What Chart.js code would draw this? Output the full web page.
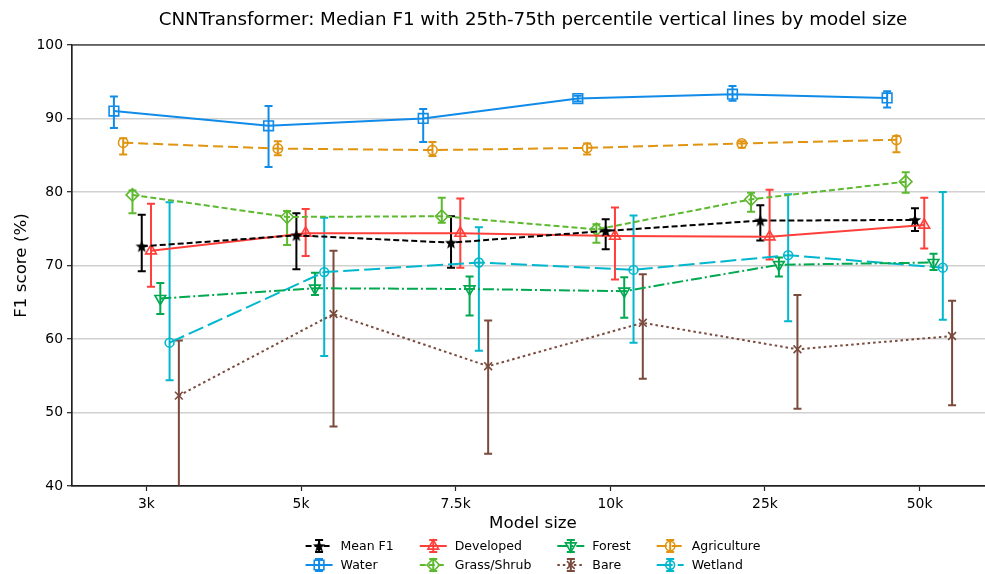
<!DOCTYPE html>
<html>
<head>
<meta charset="utf-8">
<script src="https://cdn.jsdelivr.net/npm/chart.js@4.4.1/dist/chart.umd.min.js"></script>
<style>
  html, body { margin: 0; padding: 0; overflow: hidden; background: #fff; }
  .c-chart { width: 1066px; height: 574px; }
</style>
</head>
<body>
<div class="c-chart"><canvas id="myChart" width="1066" height="574"></canvas></div>
<script>
const modelSizes = ['3k', '5k', '7.5k', '10k', '25k', '50k'];

// median + 25th / 75th percentile per land class
const meanF1 = [72.6, 74.1, 73.1, 74.7, 76.1, 76.2];
const meanF1Low = [69.2, 69.5, 69.7, 72.2, 73.4, 74.7];
const meanF1High = [76.9, 77.1, 76.7, 76.3, 78.2, 77.8];

const water = [91.0, 89.0, 90.0, 92.7, 93.3, 92.8];
const waterLow = [88.7, 83.4, 86.8, 92.3, 92.4, 91.5];
const waterHigh = [93.0, 91.7, 91.3, 93.1, 94.4, 93.7];

const developed = [72.0, 74.4, 74.4, 74.0, 73.9, 75.5];
const developedLow = [67.1, 71.3, 69.7, 68.1, 70.8, 72.3];
const developedHigh = [78.4, 77.7, 79.1, 77.9, 80.3, 79.2];

const grass = [79.6, 76.6, 76.7, 74.9, 79.0, 81.4];
const grassLow = [77.1, 72.8, 75.8, 73.1, 77.3, 79.9];
const grassHigh = [80.2, 77.4, 79.2, 75.6, 79.9, 82.7];

const forest = [65.5, 66.9, 66.8, 66.5, 70.1, 70.4];
const forestLow = [63.4, 66.0, 63.2, 62.9, 68.5, 69.4];
const forestHigh = [67.6, 69.0, 68.5, 68.4, 71.1, 71.6];

const bare = [52.3, 63.4, 56.3, 62.2, 58.6, 60.4];
const bareLow = [39.0, 48.1, 44.4, 54.6, 50.5, 51.0];
const bareHigh = [59.8, 72.0, 62.5, 68.8, 66.0, 65.2];

const agriculture = [86.7, 85.9, 85.7, 86.0, 86.6, 87.1];
const agricultureLow = [85.1, 85.0, 84.9, 85.1, 86.0, 85.4];
const agricultureHigh = [87.3, 86.9, 86.8, 86.6, 86.9, 87.6];

const wetland = [59.5, 69.1, 70.4, 69.4, 71.4, 69.7];
const wetlandLow = [54.4, 57.7, 58.4, 59.5, 62.4, 62.6];
const wetlandHigh = [78.6, 76.5, 75.2, 76.8, 79.7, 80.0];

const yTicks = [40, 50, 60, 70, 80, 90, 100];

// filled star for the mean marker
const starImg = document.createElement('canvas');
starImg.width = 14;
starImg.height = 14;
(function () {
  const c = starImg.getContext('2d');
  c.fillStyle = '#000';
  c.beginPath();
  for (let k = 0; k < 10; k++) {
    const r = k % 2 === 0 ? 6.5 : 2.8;
    const a = -Math.PI / 2 + (k * Math.PI) / 5;
    const px = 7 + r * Math.cos(a);
    const py = 7.5 + r * Math.sin(a);
    if (k === 0) c.moveTo(px, py);
    else c.lineTo(px, py);
  }
  c.closePath();
  c.fill();
})();

// slot = side-by-side position around each model size
const series = [
  { label: 'Mean F1', values: meanF1, low: meanF1Low, high: meanF1High, slot: 3, color: '#000000', dash: [6, 3], point: starImg, radius: 6 },
  { label: 'Water', values: water, low: waterLow, high: waterHigh, slot: 0, color: '#118BE8', dash: [], point: 'rect', radius: 6.8 },
  { label: 'Developed', values: developed, low: developedLow, high: developedHigh, slot: 4, color: '#FF3F3A', dash: [], point: 'triangle', radius: 6.2 },
  { label: 'Grass/Shrub', values: grass, low: grassLow, high: grassHigh, slot: 2, color: '#5DB92F', dash: [6, 3], point: 'rectRot', radius: 6.3 },
  { label: 'Forest', values: forest, low: forestLow, high: forestHigh, slot: 5, color: '#00A84F', dash: [11, 3, 2, 3], point: 'triangle', rotation: 180, radius: 6.2 },
  { label: 'Bare', values: bare, low: bareLow, high: bareHigh, slot: 7, color: '#7A4A3C', dash: [2.5, 3], point: 'crossRot', radius: 5.5 },
  { label: 'Agriculture', values: agriculture, low: agricultureLow, high: agricultureHigh, slot: 1, color: '#E0940F', dash: [10, 5], point: 'circle', radius: 4.7 },
  { label: 'Wetland', values: wetland, low: wetlandLow, high: wetlandHigh, slot: 6, color: '#00B7CE', dash: [16, 5], point: 'circle', radius: 4.4 },
];

const slotOffset = function (slot) {
  return (slot - 3.5) * 0.06;
};

// error bars plugin block
const errorBars = {
  id: 'errorBars',
  beforeDatasetsDraw(chart) {
    const { ctx, chartArea, scales: { x, y } } = chart;
    ctx.save();
    ctx.beginPath();
    ctx.rect(chartArea.left, chartArea.top, chartArea.width, chartArea.height);
    ctx.clip();
    chart.data.datasets.forEach((ds) => {
      ctx.strokeStyle = ds.borderColor;
      ctx.lineWidth = 2;
      ctx.setLineDash([]);
      ds.data.forEach((pt, j) => {
        const px = x.getPixelForValue(pt.x);
        const top = y.getPixelForValue(ds.high[j]);
        const bot = y.getPixelForValue(ds.low[j]);
        ctx.beginPath();
        ctx.moveTo(px, top);
        ctx.lineTo(px, bot);
        ctx.moveTo(px - 4, top);
        ctx.lineTo(px + 4, top);
        ctx.moveTo(px - 4, bot);
        ctx.lineTo(px + 4, bot);
        ctx.stroke();
      });
    });
    ctx.restore();
  },
  afterDraw(chart) {
    const { ctx, chartArea } = chart;
    ctx.save();
    // frame
    ctx.strokeStyle = '#222';
    ctx.lineWidth = 1.2;
    ctx.strokeRect(chartArea.left, chartArea.top, chartArea.width, chartArea.height);

    // legend, 4 columns filled column by column
    ctx.font = '12.5px "DejaVu Sans"';
    ctx.textBaseline = 'middle';
    ctx.fillStyle = '#000';
    const datasets = chart.data.datasets;
    const cols = [];
    for (let c = 0; c < 4; c++) {
      const w = Math.max(ctx.measureText(datasets[c * 2].label).width, ctx.measureText(datasets[c * 2 + 1].label).width);
      cols.push(35 + w + (c < 3 ? 26 : 0));
    }
    const total = cols.reduce((a, b) => a + b, 0);
    let colX = (chartArea.left + chartArea.right) / 2 - total / 2;
    const rowY = [546, 565];
    for (let c = 0; c < 4; c++) {
      for (let r = 0; r < 2; r++) {
        const ds = datasets[c * 2 + r];
        const yy = rowY[r];
        ctx.strokeStyle = ds.borderColor;
        ctx.lineWidth = 2;
        ctx.setLineDash(ds.borderDash);
        ctx.beginPath();
        ctx.moveTo(colX, yy);
        ctx.lineTo(colX + 27, yy);
        ctx.stroke();
        ctx.setLineDash([]);
        const mx = colX + 13.5;
        ctx.beginPath();
        ctx.moveTo(mx, yy - 6);
        ctx.lineTo(mx, yy + 6);
        ctx.moveTo(mx - 4, yy - 6);
        ctx.lineTo(mx + 4, yy - 6);
        ctx.moveTo(mx - 4, yy + 6);
        ctx.lineTo(mx + 4, yy + 6);
        ctx.stroke();
        ctx.fillStyle = 'rgba(255,255,255,0)';
        ctx.lineWidth = 1.6;
        Chart.helpers.drawPoint(ctx, {
          pointStyle: ds.pointStyle,
          radius: ds.pointRadius,
          rotation: ds.pointRotation || 0,
          borderWidth: 1.6,
        }, mx, yy);
        ctx.fillStyle = '#000';
        ctx.fillText(ds.label, colX + 35, yy + 0.5);
      }
      colX += cols[c];
    }
    ctx.restore();
  },
};

const makeChart = function () {
  const datasets = series.map((s) => ({
    label: s.label,
    data: s.values.map((v, i) => ({ x: i + slotOffset(s.slot), y: v })),
    low: s.low,
    high: s.high,
    borderColor: s.color,
    backgroundColor: s.color,
    borderWidth: 2,
    borderDash: s.dash,
    tension: 0,
    fill: false,
    pointStyle: s.point,
    pointRadius: s.radius,
    pointRotation: s.rotation || 0,
    pointBorderWidth: 1.6,
    pointBorderColor: s.color,
    pointBackgroundColor: 'rgba(255,255,255,0)',
  }));

  const config = {
    type: 'line',
    data: { datasets },
    options: {
      responsive: false,
      animation: false,
      layout: { padding: { left: 0, right: 0, top: 0, bottom: 40 } },
      plugins: {
        legend: { display: false },
        tooltip: { enabled: false },
        title: {
          display: true,
          text: 'CNNTransformer: Median F1 with 25th-75th percentile vertical lines by model size',
          color: '#000',
          font: { size: 18.3, weight: 'normal', family: 'DejaVu Sans' },
          padding: { top: 9, bottom: 14 },
        },
      },
      scales: {
        x: {
          type: 'linear',
          min: -0.481,
          max: 5.481,
          afterBuildTicks(scale) {
            scale.ticks = modelSizes.map((_, i) => ({ value: i }));
          },
          afterFit(scale) {
            scale.height = 48;
          },
          ticks: {
            color: '#000',
            font: { size: 13.9 },
            padding: 5,
            autoSkip: false,
            maxRotation: 0,
            callback: (v) => modelSizes[v],
          },
          grid: { drawOnChartArea: false, tickLength: 5, tickColor: '#222', tickWidth: 1.2 },
          border: { color: '#222', width: 1.2 },
          title: { display: true, text: 'Model size', color: '#000', font: { size: 16.7 }, padding: { top: 0, bottom: 0 } },
        },
        y: {
          min: 40,
          max: 100,
          afterBuildTicks(scale) {
            scale.ticks = yTicks.map((v) => ({ value: v }));
          },
          afterFit(scale) {
            scale.width = 72;
          },
          ticks: { color: '#000', font: { size: 13.9 }, padding: 4 },
          grid: { color: '#d0d0d0', lineWidth: 1.4, tickLength: 5, tickColor: '#222', tickWidth: 1.2 },
          border: { color: '#222', width: 1.2 },
          title: { display: true, text: 'F1 score (%)', color: '#000', font: { size: 16.7 }, padding: { top: 12, bottom: 0 } },
        },
        // empty right-hand axis, only keeps the plot area symmetric under the title
        yRight: {
          position: 'right',
          min: 40,
          max: 100,
          afterFit(scale) {
            scale.width = 72;
          },
          ticks: { display: false },
          grid: { display: false },
          border: { display: false },
        },
      },
    },
    plugins: [errorBars],
  };

  Chart.defaults.font.family = 'DejaVu Sans';
  new Chart(document.getElementById('myChart'), config);
};

document.addEventListener('DOMContentLoaded', makeChart);
</script>
</body>
</html>
